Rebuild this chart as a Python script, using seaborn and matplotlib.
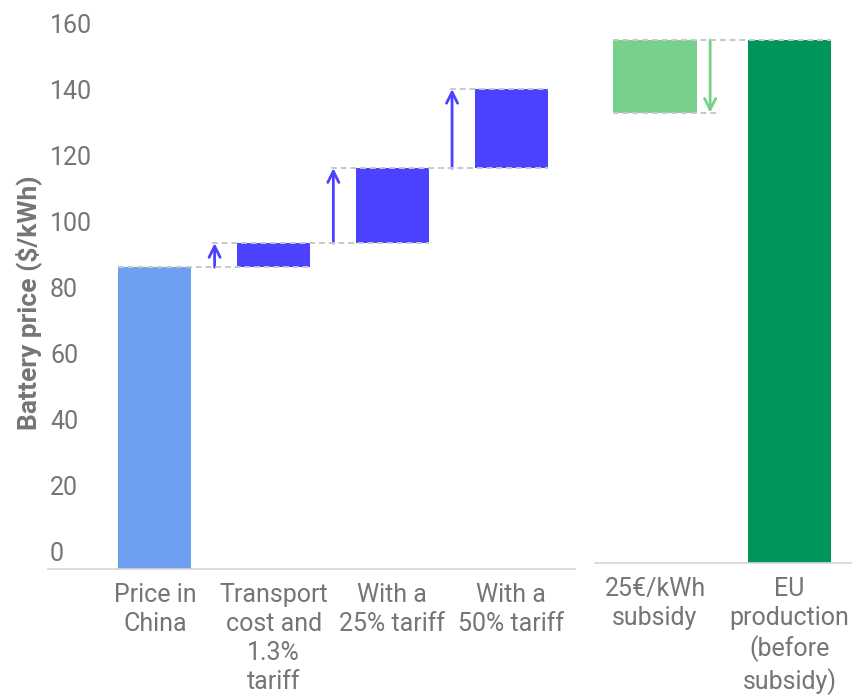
"""battery price waterfall: chinese import vs eu production"""

import matplotlib.pyplot as plt
import numpy as np
import pandas as pd
import seaborn as sns

sns.set_theme(style="white")
plt.rcParams["font.family"] = ["Roboto", "DejaVu Sans"]

# data
left_labels = [
    "Price in\nChina",
    "Transport\ncost and\n1.3%\ntariff",
    "With a\n25% tariff",
    "With a\n50% tariff",
]
left_tops = [86, 93.3, 116, 140]

right_labels = ["25€/kWh\nsubsidy", "EU\nproduction\n(before\nsubsidy)"]
eu_price = 153
eu_after_subsidy = 131

y_ticks = [0, 20, 40, 60, 80, 100, 120, 140, 160]

GRAY = "#757575"
LINE = "#d6d6d6"
DASH = "#c8c8c8"
CHINA = "#6f9ff0"
STEP = "#4b41ff"
LIGHT_GREEN = "#77d18b"
DARK_GREEN = "#00965a"

FLOOR = -5.45  # bars start at the axis line, a little below zero
PX_PER_UNIT = 3.3
BAR_W = 0.615


def style_axis(ax):
    sns.despine(ax=ax, left=True, top=True, right=True)
    ax.spines["bottom"].set_color(LINE)
    ax.spines["bottom"].set_linewidth(1.2)
    ax.set_xlabel("")
    ax.set_ylabel("")
    ax.tick_params(axis="x", length=0, pad=10, labelsize=18, labelcolor=GRAY)


fig = plt.figure(figsize=(8.52, 6.97), dpi=100)
ax_l = fig.add_axes([48 / 852, 128 / 697, 527 / 852, 559 / 697])
ax_r = fig.add_axes([595 / 852, 134 / 697, 257 / 852, 553 / 697])

# ---- left panel: waterfall of chinese price plus transport and tariffs
bases = [FLOOR] + left_tops[:-1]
heights = np.array(left_tops) - np.array(bases)
df_left = pd.DataFrame({"step": left_labels, "height": heights})
sns.barplot(
    data=df_left, x="step", y="height", order=left_labels, bottom=bases,
    width=BAR_W, color=STEP, saturation=1, linewidth=0, ax=ax_l,
)
ax_l.patches[0].set_facecolor(CHINA)

ax_l.set_xlim(-0.901, 3.538)
ax_l.set_ylim(FLOOR, FLOOR + 559 / PX_PER_UNIT)

dash_kw = dict(colors=DASH, linestyles=(0, (3, 2)), linewidth=1.4, zorder=5)
arrow_off = BAR_W / 2 + 0.19
ax_l.hlines(left_tops[0], 0 - BAR_W / 2, 1 + BAR_W / 2, **dash_kw)
for i in range(1, len(left_tops)):
    x_arrow = i - arrow_off
    x_end = min(i + 1, len(left_tops) - 1) + BAR_W / 2
    ax_l.hlines(left_tops[i], x_arrow - 0.02, x_end, **dash_kw)
    ax_l.annotate(
        "", xy=(x_arrow, left_tops[i]), xytext=(x_arrow, left_tops[i - 1]),
        arrowprops=dict(arrowstyle="->", color=STEP, lw=2,
                        mutation_scale=20, shrinkA=0, shrinkB=0),
    )

style_axis(ax_l)
ax_l.set_xticks(range(len(left_labels)))
ax_l.set_xticklabels(left_labels, linespacing=1.27)
ax_l.set_yticks(y_ticks)
ax_l.tick_params(axis="y", length=0, pad=-1.5, labelsize=18, labelcolor=GRAY)
for t in ax_l.get_yticklabels():
    t.set_horizontalalignment("left")
ax_l.set_ylabel("Battery price ($/kWh)", fontsize=19, fontweight="bold", color=GRAY)
ax_l.yaxis.set_label_coords(-0.011, 0.477)

# ---- right panel: eu production with subsidy
r_bases = [eu_after_subsidy, FLOOR]
r_heights = [eu_price - eu_after_subsidy, eu_price - FLOOR]
df_right = pd.DataFrame({"item": right_labels, "height": r_heights})
sns.barplot(
    data=df_right, x="item", y="height", order=right_labels, bottom=r_bases,
    width=0.62, color=DARK_GREEN, saturation=1, linewidth=0, ax=ax_r,
)
ax_r.patches[0].set_facecolor(LIGHT_GREEN)

ax_r.set_xlim(-0.446, 1.465)
ax_r.set_ylim(FLOOR, FLOOR + 553 / PX_PER_UNIT)

x_arrow = 0.31 + 0.1
ax_r.hlines(eu_price, -0.31, 1.31, **dash_kw)
ax_r.hlines(eu_after_subsidy, -0.31, x_arrow + 0.075, **dash_kw)
ax_r.annotate(
    "", xy=(x_arrow, eu_after_subsidy), xytext=(x_arrow, eu_price),
    arrowprops=dict(arrowstyle="->", color=LIGHT_GREEN, lw=2,
                    mutation_scale=20, shrinkA=0, shrinkB=0),
)

style_axis(ax_r)
ax_r.set_xticks(range(len(right_labels)))
ax_r.set_xticklabels(right_labels, linespacing=1.27)
ax_r.set_yticks([])

fig.savefig("out.png", dpi=100, facecolor="white")
